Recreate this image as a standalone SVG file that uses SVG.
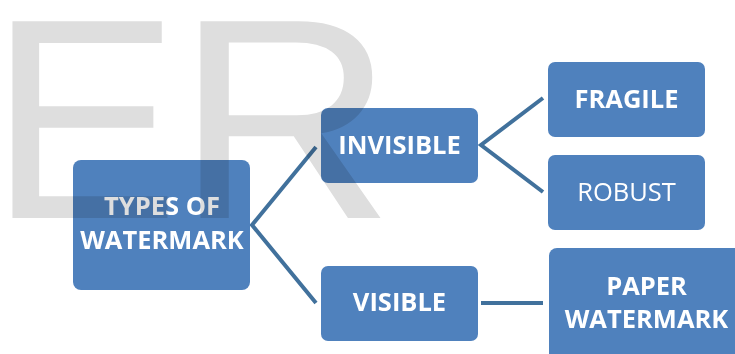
<svg xmlns="http://www.w3.org/2000/svg" width="735" height="354" viewBox="0 0 735 354">
  <style>
    .box { fill: #4F81BD; }
    .lbl { font-family: "Open Sans", "DejaVu Sans", sans-serif; font-size: 25.5px; fill: #FFFFFF; text-anchor: middle; }
    .b { font-weight: bold; }
    .link { fill: none; stroke: #41719C; stroke-width: 4; stroke-linejoin: miter; }
    .mark { font-family: "Liberation Sans", Arial, sans-serif; font-size: 286px; fill: #DEDEDE; mix-blend-mode: multiply; }
  </style>
  <rect width="735" height="354" fill="#FFFFFF"/>

  <!-- connectors -->
  <g id="connectors">
    <polyline class="link" points="316,147 252,225 316,303"/>
    <polyline class="link" points="543,98 481,145 543,192"/>
    <line class="link" x1="481" y1="303" x2="543" y2="303"/>
  </g>

  <!-- nodes -->
  <g id="types">
    <rect class="box" x="73" y="160" width="177" height="130" rx="8"/>
    <text class="lbl b" x="162" y="215">TYPES OF</text>
    <text class="lbl b" x="162" y="249">WATERMARK</text>
  </g>
  <g id="invisible">
    <rect class="box" x="321" y="108" width="157" height="75" rx="7"/>
    <text class="lbl b" x="399.5" y="154">INVISIBLE</text>
  </g>
  <g id="visible">
    <rect class="box" x="321" y="266" width="157" height="75" rx="7"/>
    <text class="lbl b" x="399.5" y="311">VISIBLE</text>
  </g>
  <g id="fragile">
    <rect class="box" x="548" y="62" width="157" height="75" rx="7"/>
    <text class="lbl b" x="626.5" y="108">FRAGILE</text>
  </g>
  <g id="robust">
    <rect class="box" x="548" y="155" width="157" height="75" rx="7"/>
    <text class="lbl" x="626.5" y="201">ROBUST</text>
  </g>
  <g id="paper">
    <rect class="box" x="549" y="248" width="196" height="130" rx="8"/>
    <text class="lbl b" x="646.5" y="295">PAPER</text>
    <text class="lbl b" x="646.5" y="328">WATERMARK</text>
  </g>

  <!-- large background lettering laid over everything -->
  <g id="lettering">
    <text class="mark" x="-11" y="218">E</text>
    <text class="mark" x="-23" y="218" transform="translate(200,0) scale(1.06,1)">R</text>
  </g>
</svg>
